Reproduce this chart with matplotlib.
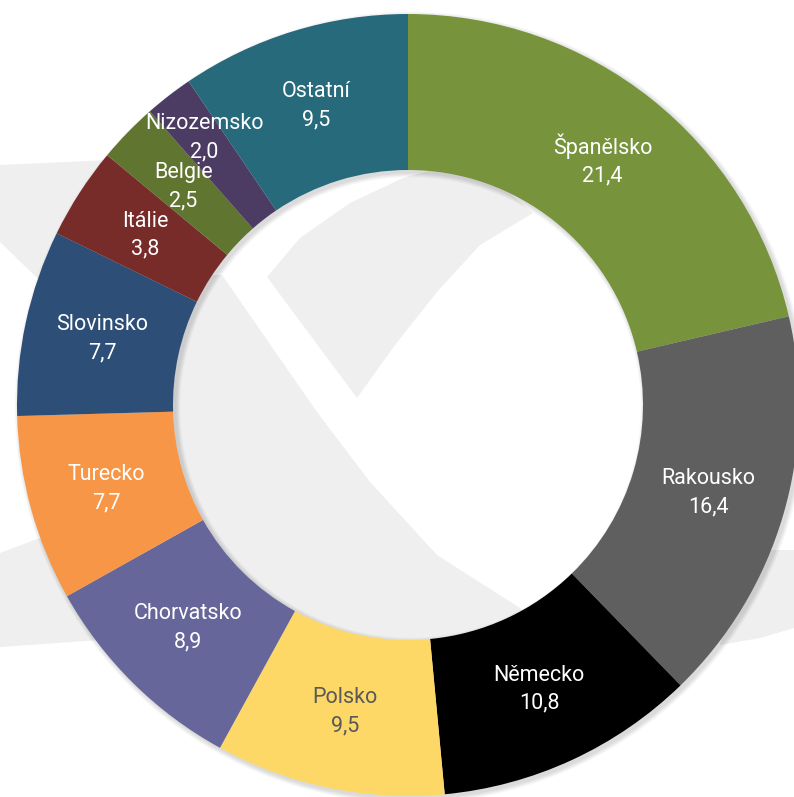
import numpy as np
import matplotlib.pyplot as plt
from matplotlib.patches import Polygon, Wedge, Circle

# data (share in %)
countries = ["Španělsko", "Rakousko", "Německo", "Polsko", "Chorvatsko", "Turecko",
             "Slovinsko", "Itálie", "Belgie", "Nizozemsko", "Ostatní"]
values = [21.4, 16.4, 10.8, 9.5, 8.9, 7.7, 7.7, 3.8, 2.5, 2.0, 9.5]
colors = ["#77933C", "#5F5F5F", "#000000", "#FDD867", "#66669A", "#F79646",
          "#2D4E76", "#772C2A", "#5F7530", "#4C3B62", "#276A7B"]
text_colors = ["white", "white", "white", "#595959", "white", "white",
               "white", "white", "white", "white", "white"]

W, H = 794, 797
fig = plt.figure(figsize=(W / 100, H / 100), dpi=100)
ax = fig.add_axes([0, 0, 1, 1])

cx, cy = 408, H - 405
r_out, r_in = 391, 235


def px(pts):
    # pixel coords (y down) -> data coords
    return [(x, H - y) for x, y in pts]


# light grey logo watermark in the background
wm = "#EFEFEF"
ax.add_patch(Polygon(px([(0, 165), (110, 160), (200, 190), (170, 330), (60, 300), (0, 242)]),
                     closed=True, fc=wm, ec="none", zorder=0))
ax.add_patch(Polygon(px([(0, 553), (40, 538), (90, 512), (150, 560), (200, 620), (100, 640), (0, 647)]),
                     closed=True, fc=wm, ec="none", zorder=0))
ax.add_patch(Polygon(px([(740, 550), (794, 550), (794, 628), (760, 638), (720, 645)]),
                     closed=True, fc=wm, ec="none", zorder=0))

hole = Circle((cx, cy), r_in, transform=ax.transData)
wedge_top = Polygon(px([(267, 277), (300, 238), (350, 203), (403, 178), (470, 160), (533, 213),
                        (480, 245), (437, 292), (395, 345), (357, 398)]),
                    closed=True, fc=wm, ec="none", zorder=0)
low_left = Polygon(px([(150, 275), (222, 275), (317, 412), (370, 482), (437, 555), (520, 608),
                       (560, 660), (150, 660)]),
                   closed=True, fc=wm, ec="none", zorder=0)
for p in (wedge_top, low_left):
    ax.add_patch(p)
    p.set_clip_path(hole)

# soft shadow of the ring
for k in range(1, 7):
    ax.add_patch(Wedge((cx + 2.5, cy - 2.5), r_out + k * 0.8, 0, 360, width=r_out - r_in + k * 1.6,
                       fc="black", ec="none", alpha=0.025, zorder=1))

wedges, _ = ax.pie(values, colors=colors, startangle=90, counterclock=False,
                   radius=r_out, center=(cx, cy),
                   wedgeprops=dict(width=r_out - r_in, edgecolor="none"))
for w in wedges:
    w.set_zorder(2)

nudges = {"Nizozemsko": (-12, 20)}
r_lab = (r_out + r_in) / 2
for w, name, v, tc in zip(wedges, countries, values, text_colors):
    ang = np.deg2rad((w.theta1 + w.theta2) / 2)
    x = cx + r_lab * np.cos(ang)
    y = cy + r_lab * np.sin(ang)
    dx, dy = nudges.get(name, (0, 0))
    ax.text(x + dx, y + dy, f"{name}\n{v:.1f}".replace(".", ","), ha="center", va="center",
            fontsize=15.5, color=tc, family=["Roboto", "DejaVu Sans"], linespacing=1.45, zorder=5)

ax.set_xlim(0, W)
ax.set_ylim(0, H)
ax.set_aspect("auto")
ax.axis("off")

fig.savefig("out.png", dpi=100, facecolor="white")
